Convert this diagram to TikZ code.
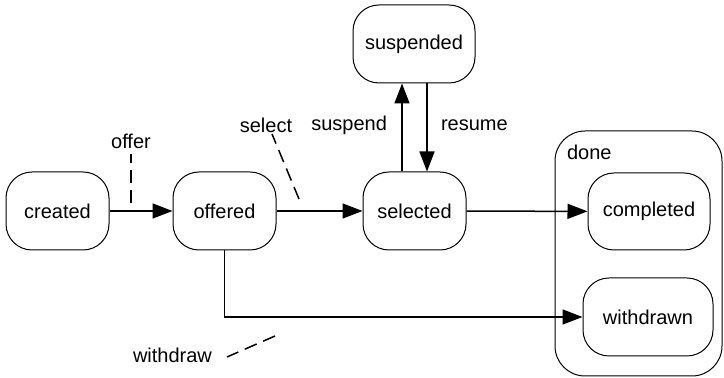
\documentclass[tikz,border=0pt]{standalone}
\usepackage{fontspec}
\setmainfont{Liberation Sans}
\usetikzlibrary{arrows.meta}
\begin{document}
\begin{tikzpicture}[font=\fontsize{10}{12}\selectfont, x=0.5pt, y=-0.5pt,
          >={Triangle[length=10pt, width=7.5pt]},
          state/.style={draw, line width=0.5pt, rounded corners=13pt, minimum height=39pt, inner sep=0pt},
          trans/.style={->, line width=0.75pt},
          callout/.style={dash pattern=on 6.5pt off 3.5pt, line width=0.75pt}]
        \useasboundingbox (0,0) rectangle (724,378);
        % done container
        \draw[line width=0.5pt, rounded corners=15pt] (555,131) rectangle (722,376);
        \node[anchor=west] (done) at (560,152) {done};
        % states
        \node[state, minimum width=51.5pt] (created) at (57.5,211) {created};
        \node[state, minimum width=51.5pt] (offered) at (224.5,211) {offered};
        \node[state, minimum width=51.5pt] (selected) at (414.5,211) {selected};
        \node[state, minimum width=61pt] (suspended) at (414,44) {suspended};
        \node[state, minimum width=61pt, minimum height=38.5pt] (completed) at (649,211.5) {completed};
        \node[state, minimum width=65pt] (withdrawn) at (648,317) {withdrawn};
        % transitions
        \draw[trans] (created) -- (offered);
        \draw[trans] (offered) -- (selected);
        \draw[trans] (selected) -- (completed);
        \draw[trans] ([xshift=-6.25pt]selected.north) -- ([xshift=-6pt]suspended.south);
        \draw[trans] ([xshift=6.5pt]suspended.south) -- ([xshift=6.25pt]selected.north);
        \draw[trans] (offered.south) |- (withdrawn.west);
        % labels
        \node (offer) at (131,141) {offer};
        \node (select) at (266,125) {select};
        \node[anchor=east] (suspend) at (394,125) {suspend};
        \node[anchor=west] (resume) at (434,125) {resume};
        \node[anchor=east] (withdraw) at (219,355) {withdraw};
        \coordinate (offerend) at (131,203);
        \coordinate (selectend) at (299,199);
        \coordinate (withdrawend) at (275,336);
        \draw[callout] (offerend) -- (131,154);
        \draw[callout] (selectend) -- (272,134);
        \draw[callout] (withdrawend) -- (227,357);
      \end{tikzpicture}
\end{document}
